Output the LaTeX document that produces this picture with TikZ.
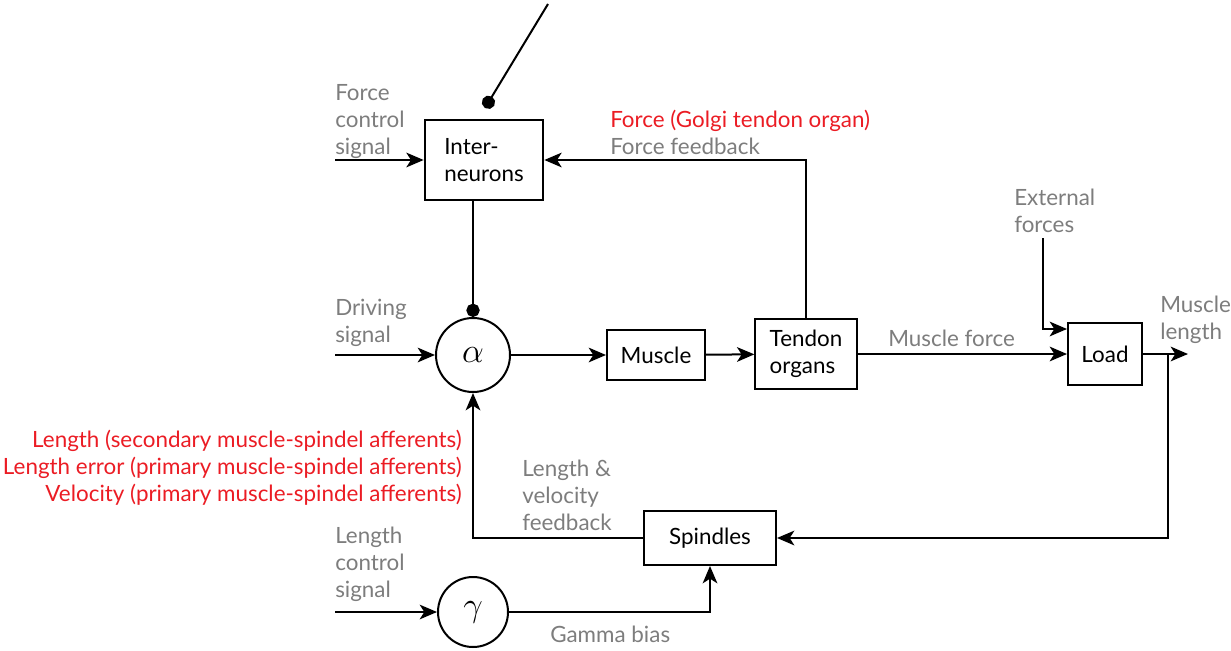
\RequirePackage{fix-cm}
\documentclass[tikz,border=0pt]{standalone}
\usepackage{fontspec}
\setmainfont{Lato}
\usetikzlibrary{positioning,calc,arrows.meta}
\definecolor{lblgray}{RGB}{125,125,125}
\definecolor{lblred}{RGB}{235,28,36}
\tikzset{box/.style={draw,line width=1.5pt,align=left,inner sep=0pt},
  circ/.style={draw,circle,line width=1.5pt,inner sep=0pt},
  lbl/.style={text=lblgray,align=left,inner sep=0pt,anchor=north west},
  redlbl/.style={text=lblred,align=right,inner sep=0pt,anchor=north east},
  arr/.style={line width=1.5pt,-{Stealth[length=13pt,width=11pt,inset=3.5pt]}},
  dotline/.style={line width=1.5pt,-{Circle[length=10pt]}}}
\newcommand{\grk}[1]{{\fontsize{26pt}{26pt}\selectfont$#1$}}

\begin{document}
\begin{tikzpicture}[x=0.75pt,y=-0.75pt,font=\fontsize{16.8pt}{20.25pt}\selectfont]
  \useasboundingbox (0,0) rectangle (1231,650);

  % blocks
  \node (inter) [box,minimum width=89pt,minimum height=60pt] at (484,160) {Inter-\\neurons};
  \node (alpha) [circ,minimum size=55.5pt] at (473,355) {\grk{\alpha}};
  \node (muscle) [box,minimum width=73.5pt,minimum height=37.5pt] at (656,355) {Muscle};
  \node (tendon) [box,minimum width=76pt,minimum height=53pt] at (806,354) {Tendon\\organs};
  \node (load) [box,minimum width=55.5pt,minimum height=46.5pt] at (1105,354) {Load};
  \node (spindles) [box,minimum width=99pt,minimum height=40.5pt] at (710,538) {Spindles};
  \node (gamma) [circ,minimum size=52.5pt] at (473,612) {\grk{\gamma}};

  % free ends
  \coordinate (fcs) at (335,160);
  \coordinate (ds) at (335,355);
  \coordinate (lcs) at (335,612);
  \coordinate (ef) at (1043,238);
  \coordinate (ml) at (1188,354);
  \coordinate (fb) at (1168,354);
  \coordinate (tp) at (548,4);
  \coordinate (dt) at (485,108);

  % labels
  \node (fcslbl) [lbl] at (335,84) {Force\\control\\signal};
  \node (dslbl) [lbl] at (335,299) {Driving\\signal};
  \node (lcslbl) [lbl] at (335,527) {Length\\control\\signal};
  \node (ffblbl) [lbl] at (610,110) {\textcolor{lblred}{Force (Golgi tendon organ)}\\Force feedback};
  \node (mflbl) [lbl] at (888,330) {Muscle force};
  \node (eflbl) [lbl] at (1014,189) {External\\forces};
  \node (mllbl) [lbl] at (1160,296) {Muscle\\length};
  \node (lvlbl) [lbl] at (522,460) {Length \&\\velocity\\feedback};
  \node (gblbl) [lbl] at (550,626) {Gamma bias};
  \node (afflbl) [redlbl] at (462,430) {Length (secondary muscle-spindel afferents)\\Length error (primary muscle-spindel afferents)\\Velocity (primary muscle-spindel afferents)};

  % connections
  \draw[dotline] (tp) -- (dt);
  \draw[arr] (fcs) -- (inter);
  \draw[dotline] (inter.south -| alpha) -- (alpha);
  \draw[arr] (ds) -- (alpha);
  \draw[arr] (alpha) -- (muscle);
  \draw[arr] (muscle) -- (tendon);
  \draw[arr] (tendon) -- (load);
  \draw[arr] (tendon) |- (inter);
  \draw[arr] (ef) |- ($(load.north west)+(0,7)$);
  \draw[arr] (load) -- (ml);
  \draw[arr] (fb) |- (spindles);
  \draw[arr] (spindles.west) -| (alpha);
  \draw[arr] (lcs) -- (gamma);
  \draw[arr] (gamma) -| (spindles);
\end{tikzpicture}
\end{document}
